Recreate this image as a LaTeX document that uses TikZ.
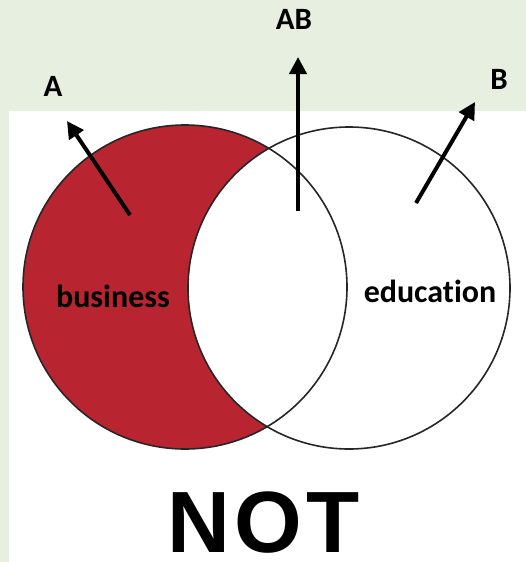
\documentclass[tikz,border=0pt]{standalone}
\usepackage{fontspec}
\setmainfont{Carlito}[Ligatures=NoCommon]
\newfontfamily\notfont{Liberation Sans}[LetterSpace=5]
\usetikzlibrary{arrows.meta}
\definecolor{bggreen}{HTML}{E6EFE0}
\definecolor{setred}{HTML}{B8242F}
\tikzset{
  lbl/.style={font=\fontsize{31}{31}\selectfont\bfseries, text=black, inner sep=0pt, anchor=base},
  arr/.style={line width=4pt, -{Triangle[length=17pt,width=17pt]}},
  ring/.style={draw=black!85, line width=1.6pt}
}
\begin{document}
\begin{tikzpicture}[x=1pt,y=-1pt]
\fill[bggreen] (0,0) rectangle (526,562);
\useasboundingbox (0,0) rectangle (526,562);
\fill[white] (9,111) rectangle (526,562);
% sets
\fill[setred] (185,287) circle[radius=162];
\fill[white] (349,288) circle[radius=161];
\draw[ring] (185,287) circle[radius=162];
\draw[ring] (349,288) circle[radius=161];
% labels
\node[lbl, font=\fontsize{32}{32}\selectfont\bfseries] (business) at (113,307) {business};
\node[lbl, font=\fontsize{32}{32}\selectfont\bfseries] (education) at (430,302) {education};
\node[lbl] (A) at (53,96) {A};
\node[lbl] (AB) at (294,29) {AB};
\node[lbl] (B) at (499,89) {B};
\node[font=\fontsize{87}{87}\selectfont\notfont\bfseries, inner sep=0pt, anchor=base] (not) at (264,552) {NOT};
% arrows
\coordinate (aS) at (130,215); \coordinate (aE) at (67,121);
\coordinate (abS) at (298,211); \coordinate (abE) at (298,57);
\coordinate (bS) at (416,203); \coordinate (bE) at (475,102);
\draw[arr] (aS) -- (aE);
\draw[arr] (abS) -- (abE);
\draw[arr] (bS) -- (bE);
\end{tikzpicture}
\end{document}
